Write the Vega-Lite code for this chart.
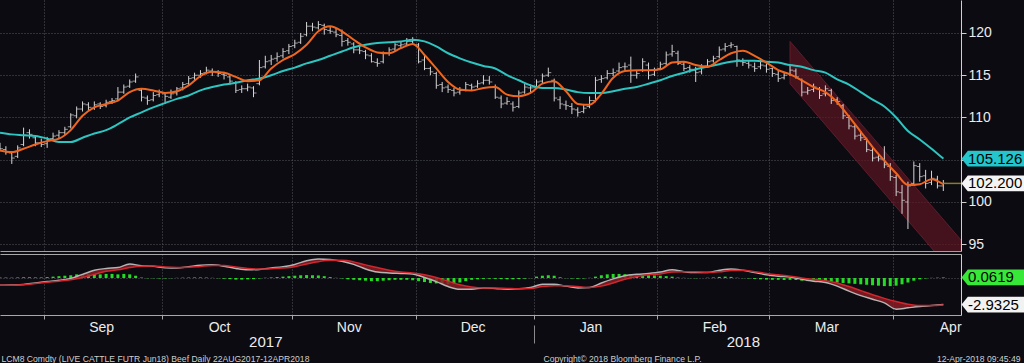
{
"$schema": "https://vega.github.io/schema/vega-lite/v6.json",
"background": "#0b0b11",
"padding": 0,
"autosize": {"type": "pad"},
"spacing": 2,
"config": {
  "view": {"stroke": null},
  "font": "Liberation Sans",
  "axis": {"labelColor": "#ececec", "labelFont": "Liberation Sans", "titleFont": "Liberation Sans", "domainColor": "#9a9a9a", "tickColor": "#9a9a9a", "gridColor": "#56565e", "gridDash": [1, 2], "gridOpacity": 1}
},
"datasets": {
"px": [
{"d":"2017-08-22","o":106.6,"h":107.0,"l":106.0,"c":106.3,"hh":0.05,"f":106.1,"s":108.2,"m":-0.8,"g":-0.8},
{"d":"2017-08-23","o":106.2,"h":106.6,"l":105.6,"c":105.9,"hh":0.05},
{"d":"2017-08-24","o":105.8,"h":106.0,"l":104.5,"c":105.2,"hh":0.04,"f":105.9,"s":108.0,"m":-0.78,"g":-0.8},
{"d":"2017-08-25","o":105.4,"h":106.7,"l":105.2,"c":106.4,"hh":0.06},
{"d":"2017-08-28","o":106.8,"h":108.8,"l":106.6,"c":107.9,"hh":0.08,"f":106.3,"s":107.9,"m":-0.72,"g":-0.76},
{"d":"2017-08-29","o":108.2,"h":108.6,"l":107.5,"c":108.0,"hh":0.08},
{"d":"2017-08-30","o":107.6,"h":107.9,"l":106.6,"c":107.0,"hh":0.06,"f":106.8,"s":107.8,"m":-0.55,"g":-0.62},
{"d":"2017-08-31","o":107.0,"h":107.5,"l":106.5,"c":106.8,"hh":0.06},
{"d":"2017-09-01","o":106.9,"h":107.7,"l":106.4,"c":107.4,"hh":0.1,"f":107.2,"s":107.5,"m":-0.4,"g":-0.48},
{"d":"2017-09-05","o":107.5,"h":108.2,"l":107.2,"c":107.8,"hh":0.15},
{"d":"2017-09-06","o":107.9,"h":108.5,"l":107.5,"c":108.2,"hh":0.2,"f":107.5,"s":107.1,"m":-0.25,"g":-0.35},
{"d":"2017-09-07","o":108.2,"h":108.9,"l":107.9,"c":108.6,"hh":0.25},
{"d":"2017-09-08","o":108.9,"h":110.5,"l":108.7,"c":110.3,"hh":0.3,"f":108.5,"s":107.1,"m":-0.05,"g":-0.2},
{"d":"2017-09-11","o":110.2,"h":111.3,"l":109.9,"c":111.0,"hh":0.4},
{"d":"2017-09-12","o":111.0,"h":111.9,"l":110.7,"c":111.6,"hh":0.45,"f":110.2,"s":107.6,"m":0.4,"g":0.05},
{"d":"2017-09-13","o":111.5,"h":111.8,"l":110.8,"c":111.2,"hh":0.45},
{"d":"2017-09-14","o":111.1,"h":111.9,"l":110.9,"c":111.5,"hh":0.45,"f":111.2,"s":108.1,"m":0.85,"g":0.4},
{"d":"2017-09-15","o":111.6,"h":111.8,"l":111.0,"c":111.3,"hh":0.4},
{"d":"2017-09-18","o":111.4,"h":112.1,"l":111.2,"c":111.8,"hh":0.45,"f":111.6,"s":108.5,"m":1.05,"g":0.75},
{"d":"2017-09-19","o":111.9,"h":112.3,"l":111.6,"c":112.0,"hh":0.45},
{"d":"2017-09-20","o":112.2,"h":113.6,"l":112.0,"c":113.0,"hh":0.4,"f":112.0,"s":109.2,"m":1.15,"g":0.9},
{"d":"2017-09-21","o":113.0,"h":113.9,"l":112.8,"c":113.6,"hh":0.45},
{"d":"2017-09-22","o":113.7,"h":114.5,"l":113.5,"c":114.2,"hh":0.4,"f":113.0,"s":110.0,"m":1.55,"g":1.15},
{"d":"2017-09-25","o":114.3,"h":115.2,"l":114.1,"c":114.8,"hh":0.25},
{"d":"2017-09-26","o":113.2,"h":113.4,"l":111.9,"c":112.4,"hh":0.05,"f":113.4,"s":110.6,"m":1.35,"g":1.3},
{"d":"2017-09-27","o":112.3,"h":112.6,"l":111.5,"c":112.0,"hh":-0.03},
{"d":"2017-09-28","o":112.1,"h":113.0,"l":111.9,"c":112.6,"hh":-0.03,"f":113.2,"s":111.2,"m":1.3,"g":1.32},
{"d":"2017-09-29","o":112.7,"h":113.3,"l":112.4,"c":113.0,"hh":-0.05},
{"d":"2017-10-02","o":112.8,"h":113.0,"l":111.6,"c":112.5,"hh":-0.05,"f":112.9,"s":111.7,"m":1.12,"g":1.2},
{"d":"2017-10-03","o":112.4,"h":113.3,"l":112.2,"c":112.8,"hh":-0.03},
{"d":"2017-10-04","o":112.9,"h":113.6,"l":112.6,"c":113.4,"hh":0.02,"f":113.1,"s":112.2,"m":1.1,"g":1.15},
{"d":"2017-10-05","o":113.5,"h":114.2,"l":113.2,"c":113.9,"hh":0.04},
{"d":"2017-10-06","o":114.0,"h":114.9,"l":113.8,"c":114.6,"hh":0.05,"f":113.8,"s":112.6,"m":1.25,"g":1.18},
{"d":"2017-10-09","o":114.7,"h":115.3,"l":114.4,"c":115.0,"hh":0.06},
{"d":"2017-10-10","o":115.0,"h":115.6,"l":114.7,"c":115.2,"hh":0.06,"f":114.9,"s":113.2,"m":1.4,"g":1.28},
{"d":"2017-10-11","o":115.3,"h":116.0,"l":115.1,"c":115.6,"hh":0.05},
{"d":"2017-10-12","o":115.5,"h":115.8,"l":114.9,"c":115.4,"hh":0.02,"f":115.4,"s":113.6,"m":1.45,"g":1.38},
{"d":"2017-10-13","o":115.3,"h":115.6,"l":114.8,"c":115.2,"hh":-0.03},
{"d":"2017-10-16","o":115.1,"h":115.4,"l":114.5,"c":115.0,"hh":-0.08,"f":115.3,"s":113.9,"m":1.3,"g":1.38},
{"d":"2017-10-17","o":114.8,"h":115.0,"l":113.9,"c":114.3,"hh":-0.12},
{"d":"2017-10-18","o":114.1,"h":114.3,"l":112.9,"c":113.2,"hh":-0.18,"f":114.8,"s":114.1,"m":1.05,"g":1.22},
{"d":"2017-10-19","o":113.3,"h":113.8,"l":112.9,"c":113.4,"hh":-0.18},
{"d":"2017-10-20","o":113.4,"h":114.0,"l":113.1,"c":113.6,"hh":-0.15,"f":114.3,"s":114.4,"m":0.9,"g":1.05},
{"d":"2017-10-23","o":113.5,"h":113.7,"l":112.4,"c":112.9,"hh":-0.12},
{"d":"2017-10-24","o":114.0,"h":116.8,"l":113.8,"c":115.9,"hh":-0.05,"f":114.4,"s":114.6,"m":0.95,"g":0.98},
{"d":"2017-10-25","o":116.0,"h":117.3,"l":115.8,"c":116.6,"hh":0.03},
{"d":"2017-10-26","o":116.7,"h":117.4,"l":116.2,"c":116.9,"hh":0.06,"f":115.8,"s":115.0,"m":1.1,"g":1.02},
{"d":"2017-10-27","o":117.0,"h":117.7,"l":116.6,"c":117.2,"hh":0.1},
{"d":"2017-10-30","o":117.3,"h":118.2,"l":117.0,"c":117.8,"hh":0.15,"f":116.8,"s":115.5,"m":1.25,"g":1.1},
{"d":"2017-10-31","o":117.9,"h":118.7,"l":117.5,"c":118.4,"hh":0.2},
{"d":"2017-11-01","o":118.5,"h":119.2,"l":118.2,"c":118.8,"hh":0.25,"f":117.5,"s":115.9,"m":1.5,"g":1.25},
{"d":"2017-11-02","o":118.9,"h":120.0,"l":118.7,"c":119.6,"hh":0.3},
{"d":"2017-11-03","o":119.8,"h":121.3,"l":119.6,"c":120.8,"hh":0.32,"f":118.6,"s":116.4,"m":1.9,"g":1.55},
{"d":"2017-11-06","o":120.8,"h":121.2,"l":120.2,"c":120.7,"hh":0.3},
{"d":"2017-11-07","o":120.6,"h":121.4,"l":120.4,"c":121.0,"hh":0.28,"f":120.2,"s":116.8,"m":2.1,"g":1.8},
{"d":"2017-11-08","o":120.9,"h":121.1,"l":119.8,"c":120.4,"hh":0.2},
{"d":"2017-11-09","o":120.3,"h":120.8,"l":119.9,"c":120.2,"hh":0.1,"f":120.8,"s":117.3,"m":2.05,"g":1.95},
{"d":"2017-11-10","o":120.1,"h":120.6,"l":119.5,"c":119.8,"hh":0.02},
{"d":"2017-11-13","o":119.7,"h":120.4,"l":118.4,"c":119.0,"hh":-0.05,"f":120.2,"s":117.8,"m":1.85,"g":1.95},
{"d":"2017-11-14","o":119.1,"h":119.4,"l":118.5,"c":118.9,"hh":-0.15},
{"d":"2017-11-15","o":118.7,"h":118.9,"l":117.6,"c":118.0,"hh":-0.2,"f":119.2,"s":118.3,"m":1.5,"g":1.78},
{"d":"2017-11-16","o":118.0,"h":118.4,"l":117.5,"c":117.9,"hh":-0.25},
{"d":"2017-11-17","o":117.8,"h":118.0,"l":116.9,"c":117.4,"hh":-0.3,"f":118.3,"s":118.6,"m":1.0,"g":1.45},
{"d":"2017-11-20","o":117.3,"h":117.6,"l":116.5,"c":116.6,"hh":-0.35},
{"d":"2017-11-21","o":116.5,"h":117.0,"l":116.0,"c":116.4,"hh":-0.35,"f":117.7,"s":118.8,"m":0.65,"g":1.15},
{"d":"2017-11-22","o":116.6,"h":117.8,"l":116.4,"c":117.6,"hh":-0.3},
{"d":"2017-11-24","o":117.6,"h":118.3,"l":117.3,"c":118.0,"hh":-0.25,"f":117.6,"s":118.9,"m":0.55,"g":0.85},
{"d":"2017-11-27","o":118.1,"h":118.8,"l":117.8,"c":118.6,"hh":-0.2},
{"d":"2017-11-28","o":118.5,"h":119.0,"l":118.2,"c":118.6,"hh":-0.2,"f":118.2,"s":119.0,"m":0.5,"g":0.65},
{"d":"2017-11-29","o":118.7,"h":119.4,"l":118.5,"c":119.0,"hh":-0.2},
{"d":"2017-11-30","o":119.0,"h":119.5,"l":118.7,"c":119.1,"hh":-0.25,"f":118.7,"s":119.2,"m":0.45,"g":0.55},
{"d":"2017-12-01","o":118.6,"h":118.8,"l":116.4,"c":116.6,"hh":-0.35},
{"d":"2017-12-04","o":116.8,"h":117.5,"l":115.6,"c":115.8,"hh":-0.45,"f":117.4,"s":119.0,"m":0.05,"g":0.35},
{"d":"2017-12-05","o":115.8,"h":116.0,"l":115.0,"c":115.4,"hh":-0.55},
{"d":"2017-12-06","o":115.2,"h":115.4,"l":113.4,"c":113.8,"hh":-0.6,"f":115.8,"s":118.4,"m":-0.4,"g":0.05},
{"d":"2017-12-07","o":113.9,"h":114.2,"l":113.0,"c":113.5,"hh":-0.65},
{"d":"2017-12-08","o":113.6,"h":113.9,"l":112.9,"c":113.3,"hh":-0.7,"f":114.2,"s":117.6,"m":-0.95,"g":-0.35},
{"d":"2017-12-11","o":113.2,"h":113.5,"l":112.5,"c":112.9,"hh":-0.65},
{"d":"2017-12-12","o":113.0,"h":113.6,"l":112.7,"c":113.2,"hh":-0.5,"f":113.3,"s":117.0,"m":-1.25,"g":-0.75},
{"d":"2017-12-13","o":113.3,"h":114.2,"l":113.1,"c":113.9,"hh":-0.35},
{"d":"2017-12-14","o":113.8,"h":114.0,"l":113.2,"c":113.6,"hh":-0.2,"f":113.2,"s":116.5,"m":-1.25,"g":-1.0},
{"d":"2017-12-15","o":113.7,"h":114.4,"l":113.5,"c":114.0,"hh":-0.15},
{"d":"2017-12-18","o":114.1,"h":115.0,"l":113.9,"c":114.4,"hh":-0.1,"f":113.5,"s":116.1,"m":-1.1,"g":-1.1},
{"d":"2017-12-19","o":114.4,"h":114.9,"l":113.9,"c":114.2,"hh":-0.08},
{"d":"2017-12-20","o":113.6,"h":113.9,"l":112.2,"c":112.4,"hh":-0.1,"f":113.6,"s":115.8,"m":-1.15,"g":-1.1},
{"d":"2017-12-21","o":112.3,"h":112.6,"l":111.1,"c":111.6,"hh":-0.12},
{"d":"2017-12-22","o":111.7,"h":112.4,"l":111.5,"c":111.9,"hh":-0.15,"f":112.7,"s":115.0,"m":-1.25,"g":-1.15},
{"d":"2017-12-26","o":111.6,"h":111.9,"l":110.7,"c":111.2,"hh":-0.15},
{"d":"2017-12-27","o":111.3,"h":113.2,"l":111.1,"c":112.9,"hh":-0.12,"f":112.5,"s":114.4,"m":-1.2,"g":-1.2},
{"d":"2017-12-28","o":113.0,"h":114.0,"l":112.8,"c":113.6,"hh":-0.08},
{"d":"2017-12-29","o":113.5,"h":113.9,"l":113.0,"c":113.5,"hh":-0.02,"f":112.9,"s":113.8,"m":-1.05,"g":-1.15},
{"d":"2018-01-02","o":113.6,"h":114.5,"l":113.4,"c":114.2,"hh":0.15},
{"d":"2018-01-03","o":114.3,"h":115.2,"l":114.0,"c":114.9,"hh":0.25,"f":114.0,"s":113.5,"m":-0.7,"g":-0.95},
{"d":"2018-01-04","o":115.0,"h":115.9,"l":114.8,"c":115.3,"hh":0.3},
{"d":"2018-01-05","o":114.4,"h":114.6,"l":111.9,"c":112.3,"hh":0.25,"f":114.3,"s":113.5,"m":-0.7,"g":-0.85},
{"d":"2018-01-08","o":112.1,"h":112.5,"l":111.0,"c":111.6,"hh":0.08},
{"d":"2018-01-09","o":111.5,"h":112.0,"l":110.9,"c":111.4,"hh":-0.02,"f":113.1,"s":113.3,"m":-0.9,"g":-0.85},
{"d":"2018-01-10","o":111.3,"h":111.7,"l":110.4,"c":111.0,"hh":-0.06},
{"d":"2018-01-11","o":110.9,"h":111.2,"l":110.1,"c":110.6,"hh":-0.08,"f":111.6,"s":113.0,"m":-1.1,"g":-0.95},
{"d":"2018-01-12","o":110.7,"h":111.6,"l":110.5,"c":111.1,"hh":-0.05},
{"d":"2018-01-16","o":111.3,"h":112.5,"l":111.1,"c":112.0,"hh":0.02,"f":111.5,"s":112.9,"m":-1.05,"g":-1.05},
{"d":"2018-01-17","o":112.0,"h":114.8,"l":111.8,"c":114.4,"hh":0.15},
{"d":"2018-01-18","o":114.5,"h":115.0,"l":114.1,"c":114.6,"hh":0.3,"f":112.8,"s":112.9,"m":-0.55,"g":-0.9},
{"d":"2018-01-19","o":114.7,"h":115.6,"l":114.5,"c":115.2,"hh":0.4},
{"d":"2018-01-22","o":115.2,"h":115.8,"l":114.9,"c":115.3,"hh":0.45,"f":114.7,"s":113.1,"m":-0.1,"g":-0.55},
{"d":"2018-01-23","o":115.5,"h":116.5,"l":115.3,"c":115.9,"hh":0.45},
{"d":"2018-01-24","o":116.0,"h":116.5,"l":115.6,"c":116.0,"hh":0.42,"f":115.5,"s":113.4,"m":0.25,"g":-0.15},
{"d":"2018-01-25","o":116.2,"h":117.2,"l":114.1,"c":115.0,"hh":0.38},
{"d":"2018-01-26","o":115.0,"h":115.6,"l":114.6,"c":115.2,"hh":0.35,"f":115.6,"s":113.6,"m":0.4,"g":0.15},
{"d":"2018-01-29","o":115.6,"h":117.0,"l":115.4,"c":116.6,"hh":0.35},
{"d":"2018-01-30","o":116.2,"h":116.5,"l":114.5,"c":115.0,"hh":0.3,"f":115.6,"s":114.0,"m":0.5,"g":0.35},
{"d":"2018-01-31","o":115.1,"h":115.9,"l":114.9,"c":115.6,"hh":0.28},
{"d":"2018-02-01","o":115.8,"h":116.6,"l":115.6,"c":116.3,"hh":0.25,"f":115.7,"s":114.4,"m":0.65,"g":0.45},
{"d":"2018-02-02","o":116.4,"h":117.8,"l":116.2,"c":117.4,"hh":0.2},
{"d":"2018-02-05","o":117.5,"h":118.6,"l":117.2,"c":117.8,"hh":0.15,"f":116.5,"s":114.9,"m":0.9,"g":0.65},
{"d":"2018-02-06","o":117.6,"h":117.9,"l":116.2,"c":116.4,"hh":0.05},
{"d":"2018-02-07","o":116.3,"h":116.6,"l":115.5,"c":115.8,"hh":0.02,"f":116.6,"s":115.3,"m":0.7,"g":0.7},
{"d":"2018-02-08","o":115.9,"h":116.2,"l":115.3,"c":115.7,"hh":-0.02},
{"d":"2018-02-09","o":115.6,"h":116.0,"l":114.2,"c":115.3,"hh":-0.03,"f":116.2,"s":115.7,"m":0.6,"g":0.68},
{"d":"2018-02-12","o":115.4,"h":116.3,"l":115.1,"c":116.0,"hh":0.0},
{"d":"2018-02-13","o":116.1,"h":116.9,"l":115.9,"c":116.6,"hh":0.03,"f":116.0,"s":116.0,"m":0.6,"g":0.62},
{"d":"2018-02-14","o":116.7,"h":117.3,"l":116.5,"c":117.0,"hh":0.06},
{"d":"2018-02-15","o":117.2,"h":118.4,"l":117.0,"c":118.0,"hh":0.12,"f":116.8,"s":116.3,"m":0.85,"g":0.68},
{"d":"2018-02-16","o":118.1,"h":118.8,"l":117.8,"c":118.4,"hh":0.15},
{"d":"2018-02-20","o":118.5,"h":118.9,"l":118.2,"c":118.6,"hh":0.12,"f":117.6,"s":116.6,"m":1.0,"g":0.82},
{"d":"2018-02-21","o":118.4,"h":118.5,"l":116.0,"c":116.8,"hh":0.03},
{"d":"2018-02-22","o":116.6,"h":117.0,"l":116.1,"c":116.5,"hh":-0.02,"f":117.9,"s":116.7,"m":0.85,"g":0.85},
{"d":"2018-02-23","o":116.4,"h":116.8,"l":115.8,"c":116.2,"hh":-0.05},
{"d":"2018-02-26","o":116.0,"h":116.5,"l":115.4,"c":115.8,"hh":-0.1,"f":117.3,"s":116.7,"m":0.6,"g":0.7},
{"d":"2018-02-27","o":116.0,"h":117.0,"l":115.7,"c":116.2,"hh":-0.15},
{"d":"2018-02-28","o":116.1,"h":116.4,"l":115.3,"c":115.7,"hh":-0.18,"f":116.5,"s":116.6,"m":0.35,"g":0.5},
{"d":"2018-03-01","o":115.8,"h":115.9,"l":114.8,"c":115.2,"hh":-0.2},
{"d":"2018-03-02","o":115.1,"h":115.5,"l":114.2,"c":114.6,"hh":-0.2,"f":115.6,"s":116.5,"m":0.2,"g":0.35},
{"d":"2018-03-05","o":114.7,"h":115.3,"l":114.5,"c":115.0,"hh":-0.22},
{"d":"2018-03-06","o":115.2,"h":116.2,"l":114.9,"c":115.6,"hh":-0.2,"f":115.1,"s":116.2,"m":0.1,"g":0.2,"ct":119.0,"cb":114.0},
{"d":"2018-03-07","o":115.5,"h":115.8,"l":114.6,"c":114.8,"hh":-0.22},
{"d":"2018-03-08","o":114.5,"h":114.6,"l":112.5,"c":113.0,"hh":-0.3,"f":114.4,"s":116.0,"m":-0.15,"g":0.0},
{"d":"2018-03-09","o":113.0,"h":113.6,"l":112.7,"c":113.2,"hh":-0.35},
{"d":"2018-03-12","o":113.3,"h":114.0,"l":113.0,"c":113.6,"hh":-0.38,"f":113.6,"s":115.6,"m":-0.35,"g":-0.15},
{"d":"2018-03-13","o":113.4,"h":113.6,"l":112.2,"c":112.6,"hh":-0.4},
{"d":"2018-03-14","o":112.8,"h":113.8,"l":112.5,"c":113.4,"hh":-0.42,"f":113.0,"s":115.3,"m":-0.5,"g":-0.3},
{"d":"2018-03-15","o":113.2,"h":113.4,"l":111.6,"c":112.0,"hh":-0.45},
{"d":"2018-03-16","o":112.1,"h":112.4,"l":111.5,"c":111.9,"hh":-0.5,"f":111.8,"s":114.5,"m":-0.9,"g":-0.55},
{"d":"2018-03-19","o":111.4,"h":111.6,"l":109.8,"c":110.2,"hh":-0.55},
{"d":"2018-03-20","o":110.0,"h":110.3,"l":108.6,"c":109.0,"hh":-0.6,"f":110.1,"s":113.9,"m":-1.45,"g":-0.95},
{"d":"2018-03-21","o":108.9,"h":109.2,"l":107.4,"c":107.8,"hh":-0.65},
{"d":"2018-03-22","o":107.9,"h":108.4,"l":107.2,"c":107.6,"hh":-0.7,"f":108.3,"s":113.0,"m":-1.95,"g":-1.4},
{"d":"2018-03-23","o":107.4,"h":107.6,"l":105.9,"c":106.2,"hh":-0.75},
{"d":"2018-03-26","o":106.1,"h":106.4,"l":104.8,"c":105.2,"hh":-0.8,"f":106.5,"s":112.1,"m":-2.35,"g":-1.85},
{"d":"2018-03-27","o":105.3,"h":105.8,"l":104.8,"c":105.1,"hh":-0.85},
{"d":"2018-03-28","o":105.0,"h":106.6,"l":104.0,"c":104.4,"hh":-0.9,"f":104.9,"s":111.3,"m":-2.75,"g":-2.25},
{"d":"2018-03-29","o":104.2,"h":104.6,"l":102.5,"c":103.0,"hh":-0.9},
{"d":"2018-04-02","o":102.9,"h":103.2,"l":100.7,"c":101.2,"hh":-0.85,"f":103.4,"s":110.0,"m":-3.45,"g":-2.6},
{"d":"2018-04-03","o":101.1,"h":102.0,"l":98.6,"c":100.2,"hh":-0.7},
{"d":"2018-04-04","o":100.0,"h":102.4,"l":96.8,"c":101.9,"hh":-0.5,"f":102.0,"s":108.4,"m":-3.3,"g":-2.9},
{"d":"2018-04-05","o":102.2,"h":104.8,"l":101.9,"c":104.3,"hh":-0.3},
{"d":"2018-04-06","o":104.2,"h":104.6,"l":102.4,"c":103.0,"hh":-0.15,"f":102.1,"s":107.4,"m":-3.15,"g":-3.05},
{"d":"2018-04-09","o":103.1,"h":103.8,"l":101.6,"c":102.2,"hh":-0.05},
{"d":"2018-04-10","o":102.3,"h":103.7,"l":102.0,"c":102.8,"hh":0.02,"f":102.7,"s":106.3,"m":-3.05,"g":-3.05},
{"d":"2018-04-11","o":102.7,"h":103.1,"l":101.6,"c":101.9,"hh":0.04},
{"d":"2018-04-12","o":101.9,"h":102.6,"l":101.3,"c":102.2,"hh":0.0619,"f":102.1,"s":105.126,"m":-2.9325,"g":-2.99,"lp":102.2},
{"d":"2018-04-13","lp":102.2},
{"d":"2018-04-16","lp":102.2},
{"d":"2018-04-17","lp":102.2,"ct":95.5,"cb":90.5}
]
},
"resolve": {"scale": {"x": "shared"}},
"vconcat": [
{
  "width": 961,
  "height": 251,
  "data": {"name": "px"},
  "resolve": {"axis": {"x": "independent", "y": "independent"}},
  "layer": [
    {
      "transform": [{"filter": "isValid(datum.ct)"}],
      "mark": {"type": "area", "clip": true, "color": "#5a1622", "opacity": 0.72, "stroke": "#7e2434", "strokeWidth": 1},
      "encoding": {
        "x": {"field": "d", "type": "ordinal", "scale": {"type": "point", "padding": 0},
              "axis": {"orient": "bottom", "values": ["2017-09-01","2017-10-02","2017-11-01","2017-12-01","2018-01-02","2018-02-01","2018-03-01","2018-04-02"], "labels": false, "ticks": false, "domain": true, "domainColor": "#a0a0a0", "grid": true, "tickOffset": -3, "title": null}},
        "y": {"field": "ct", "type": "quantitative", "scale": {"domain": [94.2, 123.9], "nice": false, "zero": false},
              "axis": {"orient": "right", "values": [95, 100, 105, 110, 115, 120], "labelExpr": "datum.value == 105 ? '' : datum.label", "grid": true, "tickSize": 5, "labelPadding": 2, "labelFontSize": 14, "domainColor": "#d0d0d0", "tickColor": "#d0d0d0", "title": null}},
        "y2": {"field": "cb"}
      }
    },
    {
      "transform": [{"filter": "isValid(datum.h)"}],
      "mark": {"type": "rule", "color": "#d6d6d6", "strokeWidth": 1, "clip": true},
      "encoding": {
        "x": {"field": "d", "type": "ordinal", "scale": {"type": "point", "padding": 0}, "axis": null},
        "y": {"field": "l", "type": "quantitative", "scale": {"domain": [94.2, 123.9], "nice": false, "zero": false}, "axis": null},
        "y2": {"field": "h"}
      }
    },
    {
      "transform": [{"filter": "isValid(datum.o)"}],
      "mark": {"type": "tick", "color": "#d6d6d6", "size": 3, "thickness": 1, "xOffset": -1.5, "clip": true},
      "encoding": {
        "x": {"field": "d", "type": "ordinal", "scale": {"type": "point", "padding": 0}, "axis": null},
        "y": {"field": "o", "type": "quantitative", "scale": {"domain": [94.2, 123.9], "nice": false, "zero": false}, "axis": null}
      }
    },
    {
      "transform": [{"filter": "isValid(datum.c)"}],
      "mark": {"type": "tick", "color": "#d6d6d6", "size": 3, "thickness": 1, "xOffset": 1.5, "clip": true},
      "encoding": {
        "x": {"field": "d", "type": "ordinal", "scale": {"type": "point", "padding": 0}, "axis": null},
        "y": {"field": "c", "type": "quantitative", "scale": {"domain": [94.2, 123.9], "nice": false, "zero": false}, "axis": null}
      }
    },
    {
      "transform": [{"filter": "isValid(datum.s)"}],
      "mark": {"type": "line", "color": "#2ec4c0", "strokeWidth": 2, "interpolate": "monotone", "clip": true},
      "encoding": {
        "x": {"field": "d", "type": "ordinal", "scale": {"type": "point", "padding": 0}, "axis": null},
        "y": {"field": "s", "type": "quantitative", "scale": {"domain": [94.2, 123.9], "nice": false, "zero": false}, "axis": null}
      }
    },
    {
      "transform": [{"filter": "isValid(datum.f)"}],
      "mark": {"type": "line", "color": "#f0661e", "strokeWidth": 2, "interpolate": "monotone", "clip": true},
      "encoding": {
        "x": {"field": "d", "type": "ordinal", "scale": {"type": "point", "padding": 0}, "axis": null},
        "y": {"field": "f", "type": "quantitative", "scale": {"domain": [94.2, 123.9], "nice": false, "zero": false}, "axis": null}
      }
    },
    {
      "transform": [{"filter": "isValid(datum.lp)"}],
      "mark": {"type": "line", "color": "#8c7a30", "strokeWidth": 1.5, "clip": true},
      "encoding": {
        "x": {"field": "d", "type": "ordinal", "scale": {"type": "point", "padding": 0}, "axis": null},
        "y": {"field": "lp", "type": "quantitative", "scale": {"domain": [94.2, 123.9], "nice": false, "zero": false}, "axis": null}
      }
    },
    {
      "data": {"values": [{"d": "2018-04-17", "v": 105.126, "t": "105.126", "k": "ma"}, {"d": "2018-04-17", "v": 102.2, "t": "102.200", "k": "px"}]},
      "mark": {"type": "point", "shape": "M -1 0 L -0.8 -0.25 L 1 -0.25 L 1 0.25 L -0.8 0.25 Z", "size": 3969, "filled": true, "opacity": 1, "strokeWidth": 0, "xOffset": 32},
      "encoding": {
        "x": {"field": "d", "type": "ordinal", "scale": {"type": "point", "padding": 0}, "axis": null},
        "y": {"field": "v", "type": "quantitative", "scale": {"domain": [94.2, 123.9], "nice": false, "zero": false}, "axis": null},
        "color": {"field": "k", "type": "nominal", "scale": {"domain": ["ma", "px", "h", "m"], "range": ["#22c6cc", "#f4f4f4", "#38e838", "#f2f2f2"]}, "legend": null}
      }
    },
    {
      "data": {"values": [{"d": "2018-04-17", "v": 105.126, "t": "105.126"}, {"d": "2018-04-17", "v": 102.2, "t": "102.200"}]},
      "mark": {"type": "text", "align": "left", "baseline": "middle", "dx": 7, "fontSize": 15, "color": "#000000"},
      "encoding": {
        "x": {"field": "d", "type": "ordinal", "scale": {"type": "point", "padding": 0}, "axis": null},
        "y": {"field": "v", "type": "quantitative", "scale": {"domain": [94.2, 123.9], "nice": false, "zero": false}, "axis": null},
        "text": {"field": "t"}
      }
    }
  ]
},
{
  "width": 961,
  "height": 61,
  "data": {"name": "px"},
  "resolve": {"axis": {"x": "independent", "y": "independent"}},
  "layer": [
    {
      "transform": [{"filter": "isValid(datum.hh)"}],
      "mark": {"type": "bar", "color": "#22dd22", "width": 3, "clip": true},
      "encoding": {
        "x": {"field": "d", "type": "ordinal", "scale": {"type": "point", "padding": 0},
              "axis": {"orient": "bottom", "values": ["2017-09-01","2017-10-02","2017-11-01","2017-12-01","2018-01-02","2018-02-01","2018-03-01","2018-04-02"], "grid": true, "ticks": true, "tickSize": 4, "tickOffset": -3, "labelOffset": 57, "labelAngle": 0, "labelExpr": "utcFormat(toDate(datum.value), '%b')", "labelFontSize": 14, "labelPadding": 1, "domain": true, "domainColor": "#a8a8a8", "tickColor": "#a8a8a8",
                       "title": "Copyright© 2018 Bloomberg Finance L.P.", "titleX": 622, "titleY": 46, "titleAlign": "center", "titleAnchor": null, "titleBaseline": "alphabetic", "titleFontSize": 8.6, "titleFontWeight": "normal", "titleColor": "#cfcfcf"}},
        "y": {"field": "hh", "type": "quantitative", "scale": {"domain": [-4.09, 2.65], "nice": false, "zero": false},
              "axis": {"orient": "right", "values": [0], "grid": true, "labels": false, "ticks": false, "domain": true, "domainColor": "#d0d0d0", "title": null}}
      }
    },
    {
      "transform": [{"filter": "isValid(datum.m)"}],
      "mark": {"type": "area", "color": "#8a1c24", "opacity": 0.85, "interpolate": "monotone", "clip": true},
      "encoding": {
        "x": {"field": "d", "type": "ordinal", "scale": {"type": "point", "padding": 0},
              "axis": {"orient": "bottom", "offset": 19, "values": ["2017-10-25", "2018-02-22"], "labelExpr": "utcFormat(toDate(datum.value), '%Y')", "labelAngle": 0, "ticks": false, "domain": false, "grid": false, "labelFontSize": 15, "labelPadding": 0,
                       "title": "LCM8 Comdty (LIVE CATTLE FUTR  Jun18) Beef  Daily 22AUG2017-12APR2018", "titleX": 1, "titleY": 27, "titleAlign": "left", "titleAnchor": null, "titleBaseline": "alphabetic", "titleFontSize": 8.6, "titleFontWeight": "normal", "titleColor": "#cfcfcf"}},
        "y": {"field": "m", "type": "quantitative", "scale": {"domain": [-4.09, 2.65], "nice": false, "zero": false}, "axis": null},
        "y2": {"field": "g"}
      }
    },
    {
      "transform": [{"filter": "isValid(datum.m)"}],
      "mark": {"type": "line", "color": "#b4b4b4", "strokeWidth": 1.5, "interpolate": "monotone", "clip": true},
      "encoding": {
        "x": {"field": "d", "type": "ordinal", "scale": {"type": "point", "padding": 0},
              "axis": {"orient": "top", "values": [], "labels": false, "ticks": false, "grid": false, "domain": true, "domainColor": "#a8a8a8", "title": null}},
        "y": {"field": "m", "type": "quantitative", "scale": {"domain": [-4.09, 2.65], "nice": false, "zero": false}, "axis": null}
      }
    },
    {
      "transform": [{"filter": "isValid(datum.g)"}],
      "mark": {"type": "line", "color": "#d0262e", "strokeWidth": 1.5, "interpolate": "monotone", "clip": true},
      "encoding": {
        "x": {"field": "d", "type": "ordinal", "scale": {"type": "point", "padding": 0},
              "axis": {"orient": "bottom", "offset": 10, "values": ["2018-01-02"], "labels": false, "grid": false, "domain": false, "ticks": true, "tickSize": 18, "tickOffset": -3, "tickColor": "#8a8a8a",
                       "title": "12-Apr-2018 09:45:49", "titleX": 1020, "titleY": 36, "titleAlign": "right", "titleAnchor": null, "titleBaseline": "alphabetic", "titleFontSize": 8.6, "titleFontWeight": "normal", "titleColor": "#cfcfcf"}},
        "y": {"field": "g", "type": "quantitative", "scale": {"domain": [-4.09, 2.65], "nice": false, "zero": false}, "axis": null}
      }
    },
    {
      "data": {"values": [{"d": "2018-04-17", "v": 0.0619, "t": "0.0619", "k": "h"}, {"d": "2018-04-17", "v": -2.9325, "t": "-2.9325", "k": "m"}]},
      "mark": {"type": "point", "shape": "M -1 0 L -0.8 -0.25 L 1 -0.25 L 1 0.25 L -0.8 0.25 Z", "size": 3969, "filled": true, "opacity": 1, "strokeWidth": 0, "xOffset": 32},
      "encoding": {
        "x": {"field": "d", "type": "ordinal", "scale": {"type": "point", "padding": 0}, "axis": null},
        "y": {"field": "v", "type": "quantitative", "scale": {"domain": [-4.09, 2.65], "nice": false, "zero": false}, "axis": null},
        "color": {"field": "k", "type": "nominal", "scale": {"domain": ["ma", "px", "h", "m"], "range": ["#22c6cc", "#f4f4f4", "#38e838", "#f2f2f2"]}, "legend": null}
      }
    },
    {
      "data": {"values": [{"d": "2018-04-17", "v": 0.0619, "t": "0.0619"}, {"d": "2018-04-17", "v": -2.9325, "t": "-2.9325"}]},
      "mark": {"type": "text", "align": "left", "baseline": "middle", "dx": 7, "fontSize": 15, "color": "#000000"},
      "encoding": {
        "x": {"field": "d", "type": "ordinal", "scale": {"type": "point", "padding": 0}, "axis": null},
        "y": {"field": "v", "type": "quantitative", "scale": {"domain": [-4.09, 2.65], "nice": false, "zero": false}, "axis": null},
        "text": {"field": "t"}
      }
    }
  ]
}
]
}
